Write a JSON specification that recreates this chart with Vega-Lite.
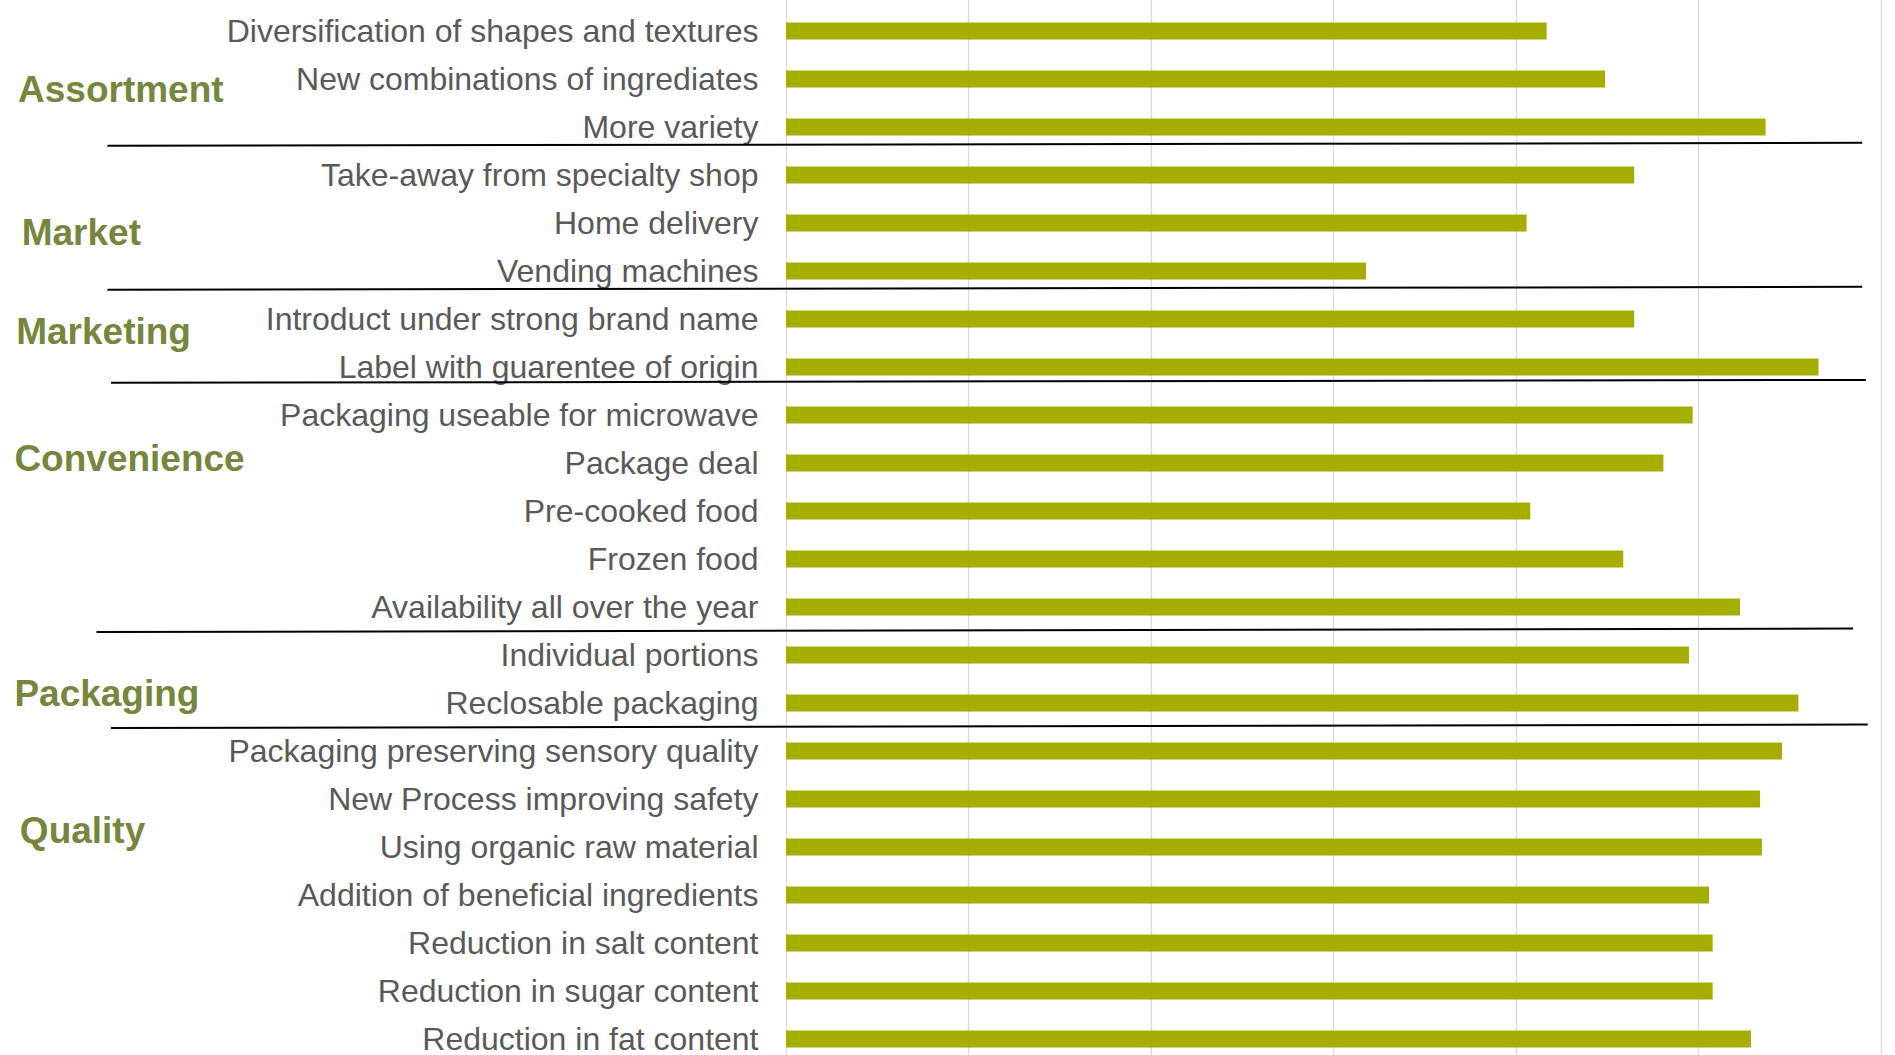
{
  "$schema": "https://vega.github.io/schema/vega-lite/v6.json",
  "autosize": {"type": "none"},
  "padding": {"left": 786, "top": 7, "right": 14, "bottom": 0},
  "width": 1094.5,
  "height": 1048,
  "background": "#ffffff",
  "config": {
    "view": {"stroke": null},
    "font": "Liberation Sans"
  },
  "datasets": {
    "items": [
      {"group": "Assortment", "item": "Diversification of shapes and textures", "score": 4.17},
      {"group": "Assortment", "item": "New combinations of ingrediates", "score": 4.49},
      {"group": "Assortment", "item": "More variety", "score": 5.37},
      {"group": "Market", "item": "Take-away from specialty shop", "score": 4.65},
      {"group": "Market", "item": "Home delivery", "score": 4.06},
      {"group": "Market", "item": "Vending machines", "score": 3.18},
      {"group": "Marketing", "item": "Introduct under strong brand name", "score": 4.65},
      {"group": "Marketing", "item": "Label with guarentee of origin", "score": 5.66},
      {"group": "Convenience", "item": "Packaging useable for microwave", "score": 4.97},
      {"group": "Convenience", "item": "Package deal", "score": 4.81},
      {"group": "Convenience", "item": "Pre-cooked food", "score": 4.08},
      {"group": "Convenience", "item": "Frozen food", "score": 4.59},
      {"group": "Convenience", "item": "Availability all over the year", "score": 5.23},
      {"group": "Packaging", "item": "Individual portions", "score": 4.95},
      {"group": "Packaging", "item": "Reclosable packaging", "score": 5.55},
      {"group": "Quality", "item": "Packaging preserving sensory quality", "score": 5.46},
      {"group": "Quality", "item": "New Process improving safety", "score": 5.34},
      {"group": "Quality", "item": "Using organic raw material", "score": 5.35},
      {"group": "Quality", "item": "Addition of beneficial ingredients", "score": 5.06},
      {"group": "Quality", "item": "Reduction in salt content", "score": 5.08},
      {"group": "Quality", "item": "Reduction in sugar content", "score": 5.08},
      {"group": "Quality", "item": "Reduction in fat content", "score": 5.29}
    ],
    "groups": [
      {"group": "Assortment", "gx": -4.21, "row": 1.98},
      {"group": "Market", "gx": -4.19, "row": 4.95},
      {"group": "Marketing", "gx": -4.22, "row": 7.02},
      {"group": "Convenience", "gx": -4.23, "row": 9.66},
      {"group": "Packaging", "gx": -4.23, "row": 14.57},
      {"group": "Quality", "gx": -4.2, "row": 17.42}
    ],
    "dividers": [
      {"after": "Assortment", "x1": -3.72, "x2": 5.9, "r1": 2.89, "r2": 2.83},
      {"after": "Market", "x1": -3.72, "x2": 5.9, "r1": 5.89, "r2": 5.83},
      {"after": "Marketing", "x1": -3.7, "x2": 5.92, "r1": 7.83, "r2": 7.77},
      {"after": "Convenience", "x1": -3.78, "x2": 5.85, "r1": 13.02, "r2": 12.95},
      {"after": "Packaging", "x1": -3.7, "x2": 5.93, "r1": 15.02, "r2": 14.95}
    ]
  },
  "resolve": {"scale": {"y": "independent"}},
  "layer": [
    {
      "data": {"name": "items"},
      "mark": {"type": "bar", "color": "#A4AE00"},
      "encoding": {
        "y": {
          "field": "item",
          "type": "nominal",
          "sort": null,
          "scale": {"range": [0, 1056], "paddingInner": 0.646, "paddingOuter": 0.323},
          "axis": {
            "title": null,
            "domain": false,
            "ticks": false,
            "labelFont": "Liberation Sans",
            "labelFontSize": 32,
            "labelColor": "#595959",
            "labelPadding": 28,
            "labelOffset": 1,
            "labelLimit": 900
          }
        },
        "x": {
          "field": "score",
          "type": "quantitative",
          "scale": {"domain": [0, 6], "nice": false, "zero": true},
          "axis": {
            "title": null,
            "values": [0, 1, 2, 3, 4, 5, 6],
            "labels": false,
            "ticks": false,
            "domain": false,
            "grid": true,
            "gridColor": "#D9D9D9",
            "gridWidth": 1.3
          }
        }
      }
    },
    {
      "layer": [
        {
          "data": {"name": "dividers"},
          "mark": {"type": "rule", "color": "#000000", "strokeWidth": 2, "strokeCap": "butt"},
          "encoding": {
            "x": {
              "field": "x1",
              "type": "quantitative",
              "scale": {"domain": [0, 6], "nice": false},
              "axis": {
                "title": null,
                "values": [0, 1, 2, 3, 4, 5, 6],
                "labels": false,
                "ticks": false,
                "domain": false,
                "grid": true,
                "gridColor": "#D9D9D9",
                "gridWidth": 1.3
              }
            },
            "x2": {"field": "x2"},
            "y": {"field": "r1", "type": "quantitative", "scale": {"domain": [0, 22], "range": [0, 1056], "nice": false, "zero": false}, "axis": null},
            "y2": {"field": "r2"}
          }
        },
        {
          "data": {"name": "groups"},
          "mark": {
            "type": "text",
            "align": "left",
            "baseline": "alphabetic",
            "font": "Liberation Sans",
            "fontWeight": "bold",
            "fontSize": 37,
            "color": "#76863C"
          },
          "encoding": {
            "x": {
              "field": "gx",
              "type": "quantitative",
              "scale": {"domain": [0, 6], "nice": false},
              "axis": {
                "title": null,
                "values": [0, 1, 2, 3, 4, 5, 6],
                "labels": false,
                "ticks": false,
                "domain": false,
                "grid": true,
                "gridColor": "#D9D9D9",
                "gridWidth": 1.3
              }
            },
            "y": {"field": "row", "type": "quantitative", "scale": {"domain": [0, 22], "range": [0, 1056], "nice": false, "zero": false}, "axis": null},
            "text": {"field": "group"}
          }
        }
      ]
    }
  ]
}
